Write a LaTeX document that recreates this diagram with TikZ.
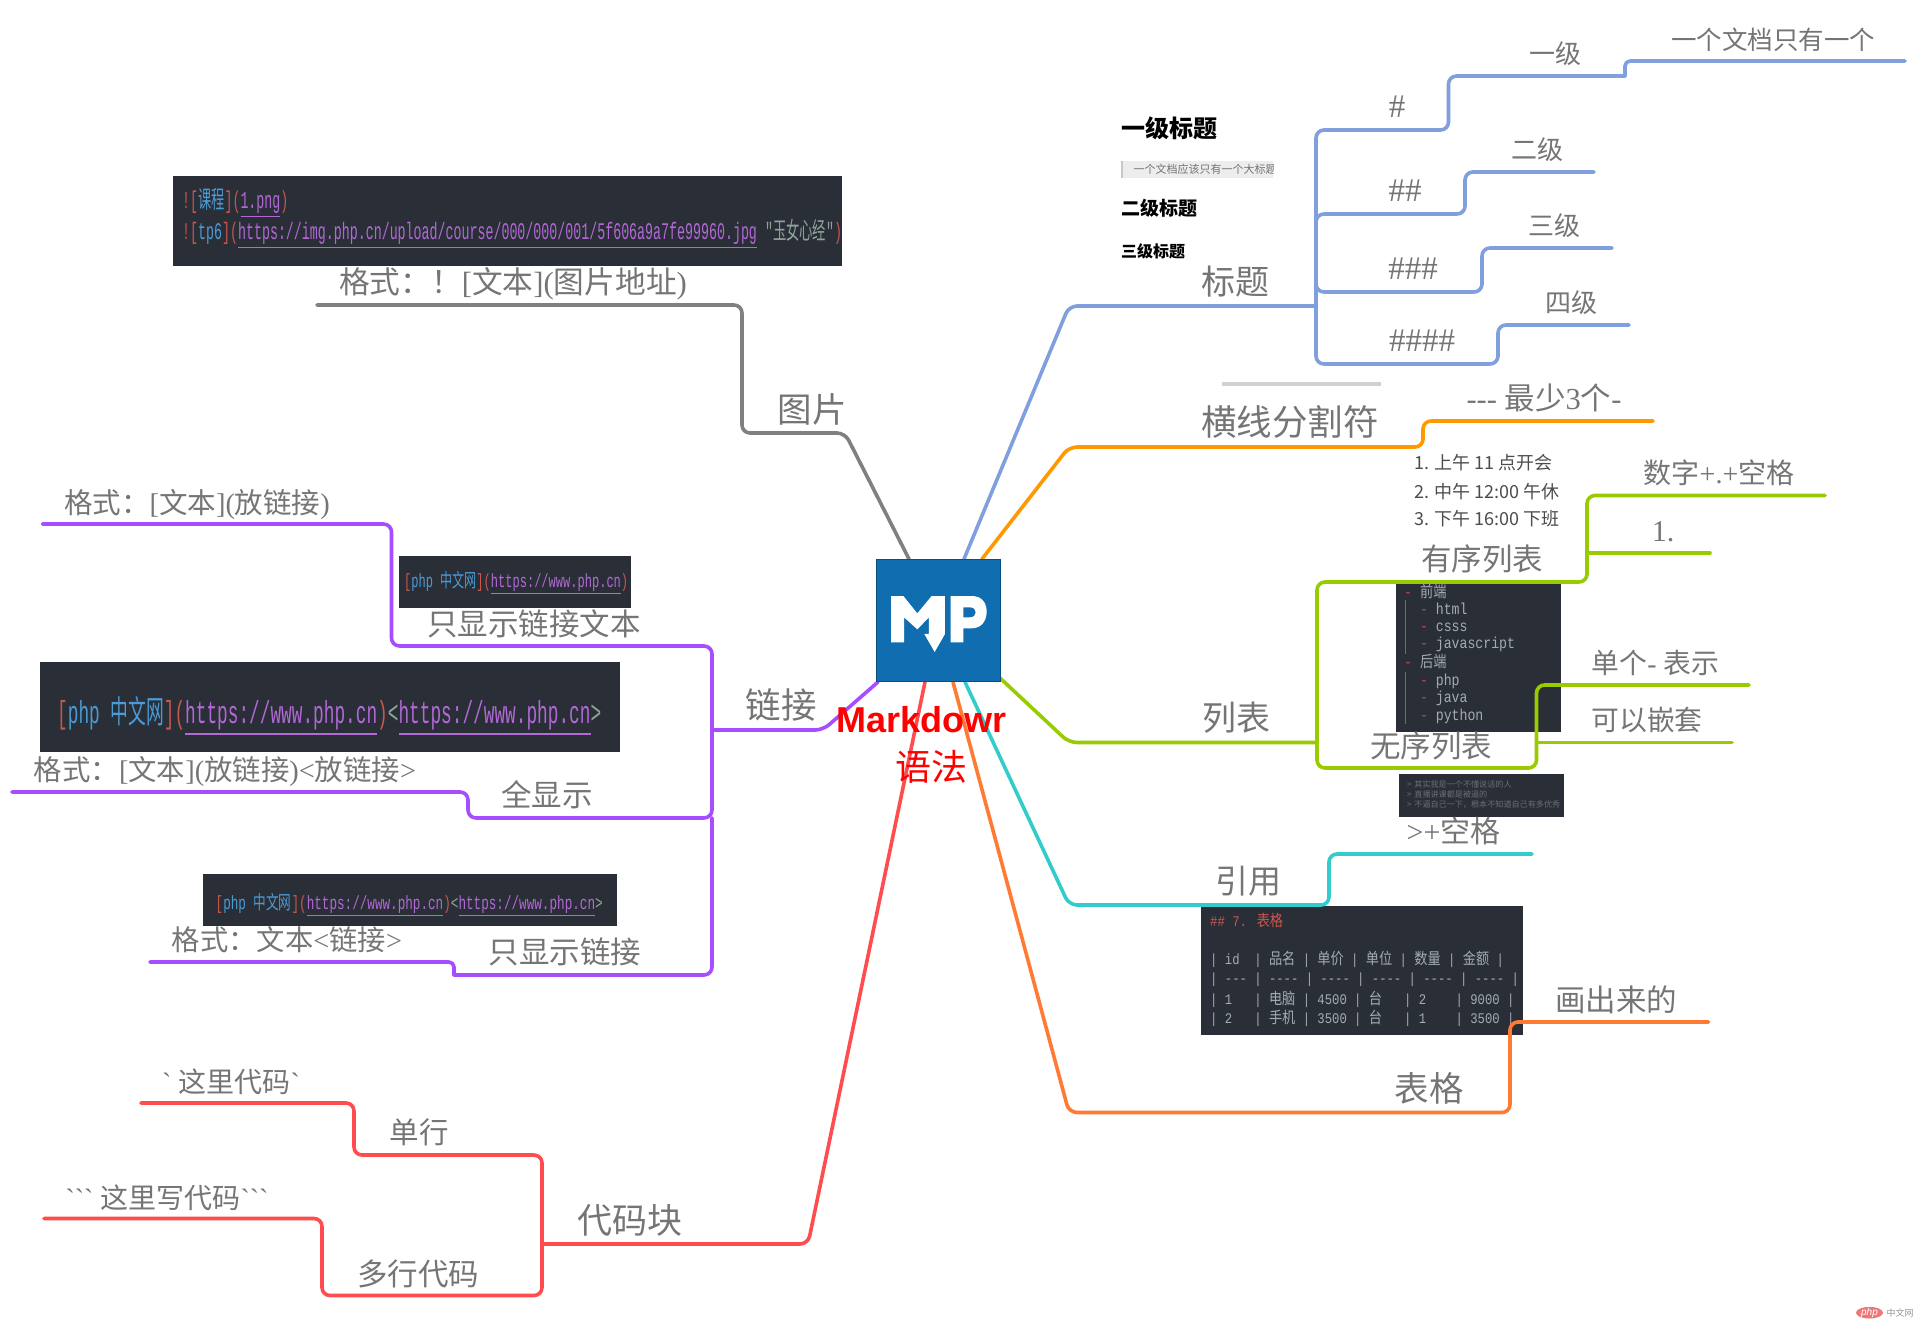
\documentclass[tikz,border=0pt]{standalone}
\usepackage{fontspec}
\usepackage{graphicx}
\newfontfamily\cjkf{Noto Sans CJK SC}
\newfontfamily\serf{Liberation Serif}
\newfontfamily\arialf{Liberation Sans}
\newfontfamily\monof{Liberation Mono}
\newcommand\fs[1]{\fontsize{#1}{#1}\selectfont}
\newcommand\zh[1]{{\cjkf #1}}
\definecolor{cblue}{HTML}{7F9FDE}
\definecolor{corange}{HTML}{FF9900}
\definecolor{cgreen}{HTML}{99CC00}
\definecolor{ccyan}{HTML}{33CCCC}
\definecolor{ctable}{HTML}{FF7A33}
\definecolor{cred}{HTML}{FF4D4F}
\definecolor{cpurple}{HTML}{A64DFF}
\definecolor{cgray}{HTML}{808080}
\definecolor{clabel}{HTML}{757575}
\definecolor{cdark}{HTML}{2A2E37}
\definecolor{cbrk}{HTML}{C9574E}
\definecolor{cphp}{HTML}{4A9BD6}
\definecolor{clnk}{HTML}{B268D6}
\definecolor{cangle}{HTML}{8FA39A}
\definecolor{ccode}{HTML}{A3ABB5}
\definecolor{cdash}{HTML}{B8475A}
\definecolor{cquote}{HTML}{6A6F77}
\definecolor{cblueroot}{HTML}{106EB0}
\definecolor{crootedge}{HTML}{0C4E7D}
\definecolor{cpure}{HTML}{FF0000}
\definecolor{cwm}{HTML}{EE7777}
\newcommand\lk[1]{\textcolor{clnk}{\underline{#1}}}
\newcommand\br[1]{\textcolor{cbrk}{#1}}
\newcommand\phptext{\br{[}\textcolor{cphp}{php \zh{中文网}}\br{]}}
\newcommand\tz[1]{{\fontsize{13.2}{13.2}\selectfont\cjkf #1}}
\newcommand\tallrow[1]{\scalebox{1}[1.2]{\monof\fs{12.25}\textcolor{ccode}{#1}}}
\newcommand\listrow[1]{\scalebox{1}[1.2]{\monof\fs{13.2}#1}}
\newcommand\dsh{\textcolor{cdash}{-}\ }
\tikzset{
  conn/.style={line width=3.6pt,rounded corners=8pt,line cap=round,line join=round},
  lab/.style={text=clabel,inner sep=0pt,font=\serf},
  shot/.style={fill=cdark,draw=none},
  code/.style={inner sep=0pt,anchor=west},
  head/.style={inner sep=0pt,anchor=west,text=black,font=\bfseries\cjkf},
}
\begin{document}
\begin{tikzpicture}[x=1pt,y=-1pt]
\useasboundingbox (0,0) rectangle (1920,1323);
% --- screenshots ------------------------------------------------
\fill[shot] (173,176) rectangle (842,266);
\node[code] (img1) at (182,203) {\resizebox*{106pt}{30pt}{\monof\br{![}\textcolor{cphp}{\zh{课程}}\br{](}\lk{1.png}\br{)}}};
\node[code] (img2) at (182,234) {\resizebox*{660pt}{30pt}{\monof\br{![}\textcolor{cphp}{tp6}\br{](}\lk{https://img.php.cn/upload/course/000/000/001/5f606a9a7fe99960.jpg} \textcolor{cangle}{"\zh{玉女心经}"}\br{)}}};
\fill[shot] (399,556) rectangle (631,608);
\node[code] (lnka) at (404,583) {\resizebox*{224pt}{24pt}{\monof\phptext\br{(}\lk{https://www.php.cn}\br{)}}};
\fill[shot] (40,662) rectangle (620,752);
\node[code] (lnkb) at (57,716) {\resizebox*{544pt}{40pt}{\monof\phptext\br{(}\lk{https://www.php.cn}\br{)}\textcolor{cangle}{<}\lk{https://www.php.cn}\textcolor{cangle}{>}}};
\fill[shot] (203,874) rectangle (617,926);
\node[code] (lnkc) at (215.5,905) {\resizebox*{387pt}{24pt}{\monof\phptext\br{(}\lk{https://www.php.cn}\br{)}\textcolor{cangle}{<}\lk{https://www.php.cn}\textcolor{cangle}{>}}};
% unordered list shot
\fill[shot] (1396,583) rectangle (1561,732);
\draw[cdark!70!white,line width=.5pt] (1405,600) -- (1405,654) (1405,672) -- (1405,724);
\node[code,text=ccode] (ul1) at (1404,591) {\listrow{\dsh\zh{前端}}};
\node[code,text=ccode] (ul2) at (1404,609) {\listrow{\hspace{15.8pt}\dsh html}};
\node[code,text=ccode] (ul3) at (1404,627) {\listrow{\hspace{15.8pt}\dsh csss}};
\node[code,text=ccode] (ul4) at (1404,644) {\listrow{\hspace{15.8pt}\dsh javascript}};
\node[code,text=ccode] (ul5) at (1404,662) {\listrow{\dsh\zh{后端}}};
\node[code,text=ccode] (ul6) at (1404,681) {\listrow{\hspace{15.8pt}\dsh php}};
\node[code,text=ccode] (ul7) at (1404,698) {\listrow{\hspace{15.8pt}\dsh java}};
\node[code,text=ccode] (ul8) at (1404,716) {\listrow{\hspace{15.8pt}\dsh python}};
% quote shot
\fill[shot] (1399,774) rectangle (1564,817);
\node[code,text=cquote,font=\cjkf\fs{8.1}] (q1) at (1407,784.3) {>\,\,其实我是一个不懂说话的人};
\node[code,text=cquote,font=\cjkf\fs{8.1}] (q2) at (1407,794.3) {>\,\,直播讲课都是被逼的};
\node[code,text=cquote,font=\cjkf\fs{8.1}] (q3) at (1407,804.7) {>\,\,不逼自己一下，根本不知道自己有多优秀};
% table shot
\fill[shot] (1201,906) rectangle (1523,1035);
\node[code] (t0) at (1210,920) {\scalebox{1}[1.2]{\monof\fs{12.25}\textcolor{cbrk}{\#\# 7. \tz{表格}}}};
\node[code] (t1) at (1210,959) {\tallrow{| id\ \ | \tz{品名} | \tz{单价} | \tz{单位} | \tz{数量} | \tz{金额} |}};
\node[code] (t2) at (1210,980) {\tallrow{| --- | ---- | ---- | ---- | ---- | ---- |}};
\node[code] (t3) at (1210,999.3) {\tallrow{| 1\ \ \ | \tz{电脑} | 4500 | \tz{台}\ \ \ | 2\ \ \ \ | 9000 |}};
\node[code] (t4) at (1210,1018.3) {\tallrow{| 2\ \ \ | \tz{手机} | 3500 | \tz{台}\ \ \ | 1\ \ \ \ | 3500 |}};
% heading preview
\node[head,font=\bfseries\cjkf\fs{24}] (h1p) at (1121,128) {一级标题};
\fill[black!7] (1121,161) rectangle (1273,178);
\fill[black!22] (1121,161) rectangle (1122.5,178);
\begin{scope}
\clip (1121,161) rectangle (1273,178);
\node[code,text=black!55,font=\cjkf\fs{11}] (h1q) at (1133.5,169) {一个文档应该只有一个大标题};
\end{scope}
\node[head,font=\bfseries\cjkf\fs{19}] (h2p) at (1121,208) {二级标题};
\node[head,font=\bfseries\cjkf\fs{16}] (h3p) at (1121,251) {三级标题};
% horizontal rule preview
\fill[black!18] (1222,382) rectangle (1381,385.5);
% ordered list preview
\node[code,text=black!70,font=\cjkf\fs{18}] (ol1) at (1414,463) {1. 上午 11 点开会};
\node[code,text=black!70,font=\cjkf\fs{18}] (ol2) at (1414,491.7) {2. 中午 12:00 午休};
\node[code,text=black!70,font=\cjkf\fs{18}] (ol3) at (1414,519) {3. 下午 16:00 下班};
% --- centre coordinates ----------------------------------------
\coordinate (rimg) at (909,559);
\coordinate (rh) at (964,559);
\coordinate (rhr) at (982,559);
\coordinate (rlist) at (1000,678);
\coordinate (rq) at (965,682);
\coordinate (rt) at (953,682);
\coordinate (rc) at (925,682);
\coordinate (rl) at (878,682);
% --- blue: headings ---------------------------------------------
\coordinate (hk) at (1069,306);
\coordinate (hj) at (1316,306);
\coordinate (h1) at (1316,130);
\coordinate (h1a) at (1448.5,130);
\coordinate (h1b) at (1448.5,76);
\coordinate (h1c) at (1625,76);
\coordinate (h1d) at (1625,61);
\coordinate (h1e) at (1905,61);
\coordinate (h2) at (1316,214);
\coordinate (h2a) at (1465,214);
\coordinate (h2b) at (1465,172);
\coordinate (h2e) at (1594,172);
\coordinate (h3) at (1316,292);
\coordinate (h3a) at (1482,292);
\coordinate (h3b) at (1482,248);
\coordinate (h3e) at (1612,248);
\coordinate (h4) at (1316,364);
\coordinate (h4a) at (1498,364);
\coordinate (h4b) at (1498,325);
\coordinate (h4e) at (1629,325);
\draw[conn,cblue] (rh) -- (hk) -- (hj);
\draw[conn,cblue] (hj) -- (h1) -- (h1a) -- (h1b) -- (h1c);
\draw[conn,cblue,rounded corners=5pt] (h1c) -- (h1d) -- (h1e);
\draw[conn,cblue] (hj) -- (h2) -- (h2a) -- (h2b) -- (h2e);
\draw[conn,cblue] (h2) -- (h3) -- (h3a) -- (h3b) -- (h3e);
\draw[conn,cblue] (hj) -- (h4) -- (h4a) -- (h4b) -- (h4e);
% --- orange: rule -----------------------------------------------
\coordinate (rk) at (1069,447);
\coordinate (ra) at (1423,447);
\coordinate (rb) at (1423,421);
\coordinate (re) at (1653,421);
\draw[conn,corange] (rhr) -- (rk) -- (ra) -- (rb) -- (re);
% --- green: lists -----------------------------------------------
\coordinate (lk) at (1069,742.5);
\coordinate (lj) at (1317,742.5);
\coordinate (lt) at (1317,582);
\coordinate (lta) at (1587,582);
\coordinate (ltm) at (1587,553);
\coordinate (ltme) at (1710,553);
\coordinate (ltb) at (1587,495.5);
\coordinate (lte) at (1825,495.5);
\coordinate (lb) at (1317,768);
\coordinate (lba) at (1536.5,768);
\coordinate (lbm) at (1536.5,742.5);
\coordinate (lbme) at (1732,742.5);
\coordinate (lbb) at (1536.5,685);
\coordinate (lbe) at (1749,685);
\draw[conn,cgreen] (rlist) -- (lk) -- (lj);
\draw[conn,cgreen] (lj) -- (lt) -- (lta) -- (ltb) -- (lte);
\draw[conn,cgreen] (ltm) -- (ltme);
\draw[conn,cgreen] (lj) -- (lb) -- (lba) -- (lbb) -- (lbe);
\draw[conn,cgreen] (lbm) -- (lbme);
% --- cyan: quote ------------------------------------------------
\coordinate (qk) at (1069,905);
\coordinate (qa) at (1329,905);
\coordinate (qb) at (1329,854);
\coordinate (qe) at (1532,854);
\draw[conn,ccyan] (rq) -- (qk) -- (qa) -- (qb) -- (qe);
% --- orange-red: table ------------------------------------------
\coordinate (tk) at (1069,1112.5);
\coordinate (ta) at (1510,1112.5);
\coordinate (tb) at (1510,1022);
\coordinate (te) at (1708.5,1022);
\draw[conn,ctable] (rt) -- (tk) -- (ta) -- (tb) -- (te);
% --- red: code --------------------------------------------------
\coordinate (ck) at (808,1244);
\coordinate (cj) at (542,1244);
\coordinate (c1) at (542,1155);
\coordinate (c1a) at (354,1155);
\coordinate (c1b) at (354,1103);
\coordinate (c1e) at (141,1103);
\coordinate (c2) at (542,1295.5);
\coordinate (c2a) at (322,1295.5);
\coordinate (c2b) at (322,1218.5);
\coordinate (c2e) at (44,1218.5);
\draw[conn,cred] (rc) -- (ck) -- (cj);
\draw[conn,cred] (cj) -- (c1) -- (c1a) -- (c1b) -- (c1e);
\draw[conn,cred] (cj) -- (c2) -- (c2a) -- (c2b) -- (c2e);
% --- purple: links ----------------------------------------------
\coordinate (pk) at (823,730);
\coordinate (pj) at (712,730);
\coordinate (p1) at (712,646);
\coordinate (p1a) at (391.5,646);
\coordinate (p1b) at (391.5,524);
\coordinate (p1e) at (42.5,524);
\coordinate (p2) at (712,818);
\coordinate (p2a) at (468,818);
\coordinate (p2b) at (468,792);
\coordinate (p2e) at (12,792);
\coordinate (p3) at (712,975);
\coordinate (p3a) at (454,975);
\coordinate (p3b) at (454,962);
\coordinate (p3e) at (150,962);
\draw[conn,cpurple] (rl) -- (pk) -- (pj);
\draw[conn,cpurple] (pj) -- (p1) -- (p1a) -- (p1b) -- (p1e);
\draw[conn,cpurple] (pj) -- (p2) -- (p2a) -- (p2b) -- (p2e);
\draw[conn,cpurple] (p2) -- (p3) -- (p3a);
\draw[conn,cpurple,rounded corners=5pt] (p3a) -- (p3b) -- (p3e);
% --- gray: image ------------------------------------------------
\coordinate (gk) at (845,433);
\coordinate (ga) at (742,433);
\coordinate (gb) at (742,305);
\coordinate (ge) at (317,305);
\draw[conn,cgray] (rimg) -- (gk) -- (ga) -- (gb) -- (ge);
% --- centre node ------------------------------------------------
\node[fill=cblueroot,draw=crootedge,line width=.8pt,inner sep=0pt,outer sep=0pt,minimum width=124pt,minimum height=122.7pt] (root) at (938,620.35) {};
\begin{scope}[shift={(820,530)},x=.3333pt,y=-.3333pt]
\fill[white] (213,337) -- (213,198) -- (250,198) -- (292,250) -- (335,198) -- (375,198) -- (375,312) -- (344,366) -- (313,312) -- (327,312) -- (327,262) -- (292,298) -- (252,262) -- (252,337) -- cycle;
\fill[white,even odd rule] (392,337) -- (392,198) -- (455,198) .. controls (487,198) and (500,220) .. (500,245) .. controls (500,272) and (485,295) .. (455,295) -- (430,295) -- (430,337) -- cycle
 (430,232) -- (430,262) -- (450,262) .. controls (473,262) and (473,232) .. (450,232) -- cycle;
\end{scope}
% --- labels -----------------------------------------------------
\node[inner sep=0pt,text=cpure,font=\arialf\bfseries\fs{36}] (title1) at (921.7,720) {Markdowr};
\node[inner sep=0pt,text=cpure,font=\cjkf\fs{36}] (title2) at (931.7,767) {语法};
\node[lab,font=\cjkf\fs{34}] (lbh) at (1235,282) {标题};
\node[lab,font=\serf\fs{33}] (s1) at (1397,107) {\#};
\node[lab,font=\serf\fs{33}] (s2) at (1405,191) {\#\#};
\node[lab,font=\serf\fs{33}] (s3) at (1413,269) {\#\#\#};
\node[lab,font=\serf\fs{33}] (s4) at (1422,341) {\#\#\#\#};
\node[lab,font=\cjkf\fs{26}] (k1) at (1555,54) {一级};
\node[lab,font=\cjkf\fs{25.5}] (k1x) at (1773,40) {一个文档只有一个};
\node[lab,font=\cjkf\fs{26}] (k2) at (1537,150) {二级};
\node[lab,font=\cjkf\fs{26}] (k3) at (1554.5,226) {三级};
\node[lab,font=\cjkf\fs{26}] (k4) at (1571,303) {四级};
\node[lab,font=\cjkf\fs{35.5}] (lbr) at (1290,422) {横线分割符};
\node[lab,font=\serf\fs{30.5}] (lbr2) at (1544,398) {--- \zh{最少}3\zh{个}-};
\node[lab,font=\cjkf\fs{30.5}] (lo) at (1482,558.5) {有序列表};
\node[lab,font=\serf\fs{28}] (lo1) at (1719,473) {\zh{数字}+.+\zh{空格}};
\node[lab,font=\serf\fs{30}] (lo2) at (1663,532) {1.};
\node[lab,font=\cjkf\fs{34}] (ll) at (1236,718) {列表};
\node[lab,font=\cjkf\fs{30.5}] (lu) at (1431,745.5) {无序列表};
\node[lab,font=\serf\fs{27.8}] (lu1) at (1655.5,662.5) {\zh{单个}- \zh{表示}};
\node[lab,font=\cjkf\fs{27.8}] (lu2) at (1647,720) {可以嵌套};
\node[lab,font=\cjkf\fs{33}] (lq) at (1248,881) {引用};
\node[lab,font=\serf\fs{30}] (lq1) at (1453.5,831) {>+\zh{空格}};
\node[lab,font=\cjkf\fs{34.5}] (ltb1) at (1429,1088) {表格};
\node[lab,font=\cjkf\fs{30.5}] (ltb2) at (1616,1000) {画出来的};
\node[lab,font=\cjkf\fs{35}] (lc) at (629.5,1220) {代码块};
\node[lab,font=\cjkf\fs{29.5}] (lc1) at (419,1132) {单行};
\node[lab,font=\serf\fs{28}] (lc1x) at (231,1082) {` \zh{这里代码}`};
\node[lab,font=\cjkf\fs{30.5}] (lc2) at (418,1274) {多行代码};
\node[lab,font=\serf\fs{28}] (lc2x) at (167,1198) {``` \zh{这里写代码}```};
\node[lab,font=\cjkf\fs{34.5}] (lg) at (812,409) {图片};
\node[lab,font=\serf\fs{30.7}] (lg1) at (513,284) {\zh{格式：！}[\zh{文本}](\zh{图片地址})};
\node[lab,font=\cjkf\fs{35.5}] (lp) at (781,705) {链接};
\node[lab,font=\cjkf\fs{30.5}] (lp1) at (534,624) {只显示链接文本};
\node[lab,font=\serf\fs{28.5}] (lp1x) at (197,504) {\zh{格式：}[\zh{文本}](\zh{放链接})};
\node[lab,font=\cjkf\fs{30.5}] (lp2) at (547,795) {全显示};
\node[lab,font=\serf\fs{28.4}] (lp2x) at (225,771) {\zh{格式：}[\zh{文本}](\zh{放链接})<\zh{放链接}>};
\node[lab,font=\cjkf\fs{30.5}] (lp3) at (565,952) {只显示链接};
\node[lab,font=\serf\fs{28.3}] (lp3x) at (287,940) {\zh{格式：文本}<\zh{链接}>};
% watermark
\fill[cwm] (1869.5,1312.7) ellipse (13.5pt and 5.8pt);
\node[inner sep=0pt,text=white,font=\arialf\itshape\fs{10}] (wm1) at (1869.5,1312.5) {php};
\node[inner sep=0pt,text=black!42,font=\cjkf\fs{9}] (wm2) at (1900,1312.7) {中文网};
\end{tikzpicture}
\end{document}
